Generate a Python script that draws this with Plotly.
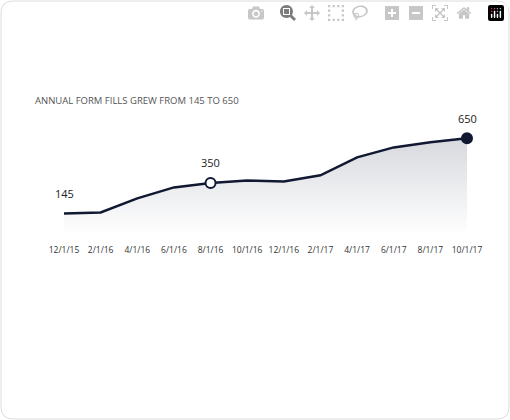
import plotly.graph_objects as go

dates = ["12/1/15","2/1/16","4/1/16","6/1/16","8/1/16","10/1/16","12/1/16","2/1/17","4/1/17","6/1/17","8/1/17","10/1/17"]
values = [145, 152, 246, 320, 350, 367, 360, 401, 522, 589, 623, 650]

W, H = 510, 420
L, R, T, B = 64, 43, 116, 185
pw, ph = W - L - R, H - T - B
def px(x): return (x - L) / pw
def py(y): return (H - B - y) / ph

FONT = "Open Sans, sans-serif"
DARK = "#111832"

fig = go.Figure()
fig.add_trace(go.Scatter(
    x=list(range(len(dates))), y=values, mode="lines",
    line=dict(color=DARK, width=2.5), fill="tozeroy",
    fillgradient=dict(type="vertical", colorscale=[[0, "rgba(255,255,255,1)"], [1, "rgba(215,217,222,1)"]]),
    hoverinfo="skip", cliponaxis=False))
fig.add_trace(go.Scatter(x=[4], y=[values[4]], mode="markers", cliponaxis=False,
    marker=dict(size=10, color="white", line=dict(color=DARK, width=2)), hoverinfo="skip"))
fig.add_trace(go.Scatter(x=[11], y=[values[11]], mode="markers", cliponaxis=False,
    marker=dict(size=10, color=DARK, line=dict(color=DARK, width=2)), hoverinfo="skip"))

for i in [0, 4, 11]:
    fig.add_annotation(x=i, y=values[i], text=str(values[i]), showarrow=False, yshift=20,
                       font=dict(family=FONT, size=11, color="#222"))

fig.add_annotation(xref="paper", yref="paper", x=px(33), y=py(100), xanchor="left", yanchor="middle",
                   text="ANNUAL FORM FILLS GREW FROM 145 TO 650", showarrow=False,
                   font=dict(family=FONT, size=9.5, color="#555"))

# card border
x0, x1, y0, y1, r = 1, 509, 1, 419, 12
path = (f"M {px(x0+r)},{py(y0)} L {px(x1-r)},{py(y0)} Q {px(x1)},{py(y0)} {px(x1)},{py(y0+r)} "
        f"L {px(x1)},{py(y1-r)} Q {px(x1)},{py(y1)} {px(x1-r)},{py(y1)} "
        f"L {px(x0+r)},{py(y1)} Q {px(x0)},{py(y1)} {px(x0)},{py(y1-r)} "
        f"L {px(x0)},{py(y0+r)} Q {px(x0)},{py(y0)} {px(x0+r)},{py(y0)} Z")
fig.add_shape(type="path", xref="paper", yref="paper", path=path,
              line=dict(color="#dcdcdc", width=1), layer="below")

fig.update_layout(
    width=W, height=H, margin=dict(l=L, r=R, t=T, b=B),
    paper_bgcolor="white", plot_bgcolor="white", showlegend=False,
    xaxis=dict(tickmode="array", tickvals=list(range(len(dates))), ticktext=dates,
               range=[0, 11], showgrid=False, zeroline=False, showline=False, tickangle=0,
               tickfont=dict(family=FONT, size=8.5, color="#333"), ticks="", ticklabelstandoff=8),
    yaxis=dict(range=[0, 800], visible=False, showgrid=False),
)
fig.write_html("out.html", post_script="document.body.style.margin='0';document.body.style.overflow='hidden';")
